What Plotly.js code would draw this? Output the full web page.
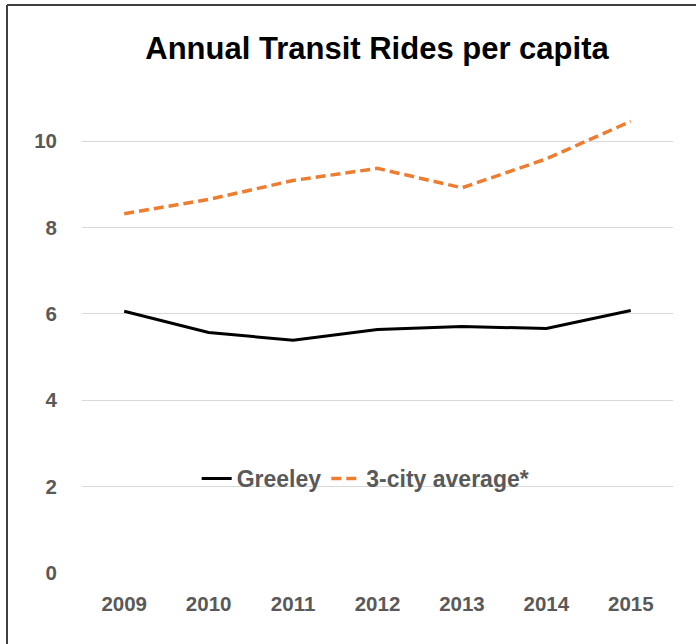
<!DOCTYPE html>
<html>
<head>
<meta charset="utf-8">
<script src="https://cdn.plot.ly/plotly-3.0.1.min.js"></script>
<style>
  html, body { margin: 0; padding: 0; background: #fff; }
  #chart { width: 696px; height: 644px; }
</style>
</head>
<body>
<div id="chart"></div>
<script>
const years = ['2009', '2010', '2011', '2012', '2013', '2014', '2015'];
const greeley = [6.06, 5.57, 5.39, 5.64, 5.71, 5.66, 6.08];
const cityAvg = [8.32, 8.65, 9.09, 9.37, 8.92, 9.59, 10.46];
const yTicks = [0, 2, 4, 6, 8, 10];

const W = 696, H = 644;
const mL = 82, mR = 23, mT = 98, mB = 71;
const pw = W - mL - mR, ph = H - mT - mB;
const bx = (7 - mL) / pw;          // left border position (paper units)
const by = 1 + (mT - 5) / ph;      // top border position (paper units)

const tickFont = { family: 'Liberation Sans, Arial, sans-serif', size: 20.5, color: '#595959', weight: 'bold' };
const legendFont = { family: 'Liberation Sans, Arial, sans-serif', size: 23, color: '#595959', weight: 'bold' };

const traces = [
  {
    x: years, y: greeley, name: 'Greeley', type: 'scatter', mode: 'lines',
    line: { color: '#000000', width: 3 }
  },
  {
    x: years, y: cityAvg, name: '3-city average*', type: 'scatter', mode: 'lines',
    line: { color: '#ED7D31', width: 3.5, dash: '10px,5px' }
  }
];

const layout = {
  width: W, height: H,
  margin: { l: mL, r: mR, t: mT, b: mB, pad: 0 },
  paper_bgcolor: '#ffffff', plot_bgcolor: '#ffffff',
  title: {
    text: '<b>Annual Transit Rides per capita</b>',
    font: { family: 'Liberation Sans, Arial, sans-serif', size: 31, color: '#000000' },
    x: (377 / W), xanchor: 'center', y: 1 - 48 / H, yanchor: 'middle'
  },
  showlegend: true,
  legend: {
    orientation: 'h', x: 0.48, xanchor: 'center', y: 0.199, yanchor: 'middle',
    font: legendFont, bgcolor: 'rgba(0,0,0,0)', itemwidth: 30, tracegroupgap: 0
  },
  xaxis: {
    type: 'category', range: [-0.5, 6.5], fixedrange: true,
    showgrid: false, zeroline: false, showline: false, ticks: '',
    tickfont: tickFont, ticklabelstandoff: 16
  },
  yaxis: {
    range: [0, 11], tickvals: yTicks, ticktext: yTicks.map(String),
    showgrid: true, gridcolor: '#D9D9D9', gridwidth: 1,
    zeroline: false, showline: false, ticks: '',
    tickfont: tickFont, ticklabelstandoff: 24
  },
  shapes: [
    { type: 'line', xref: 'paper', yref: 'paper', x0: bx, x1: bx, y0: by, y1: -1,
      line: { color: '#404040', width: 2 } },
    { type: 'line', xref: 'paper', yref: 'paper', x0: bx, x1: 2, y0: by, y1: by,
      line: { color: '#404040', width: 2 } }
  ]
};

Plotly.newPlot('chart', traces, layout, { displayModeBar: false, staticPlot: true });
</script>
</body>
</html>
